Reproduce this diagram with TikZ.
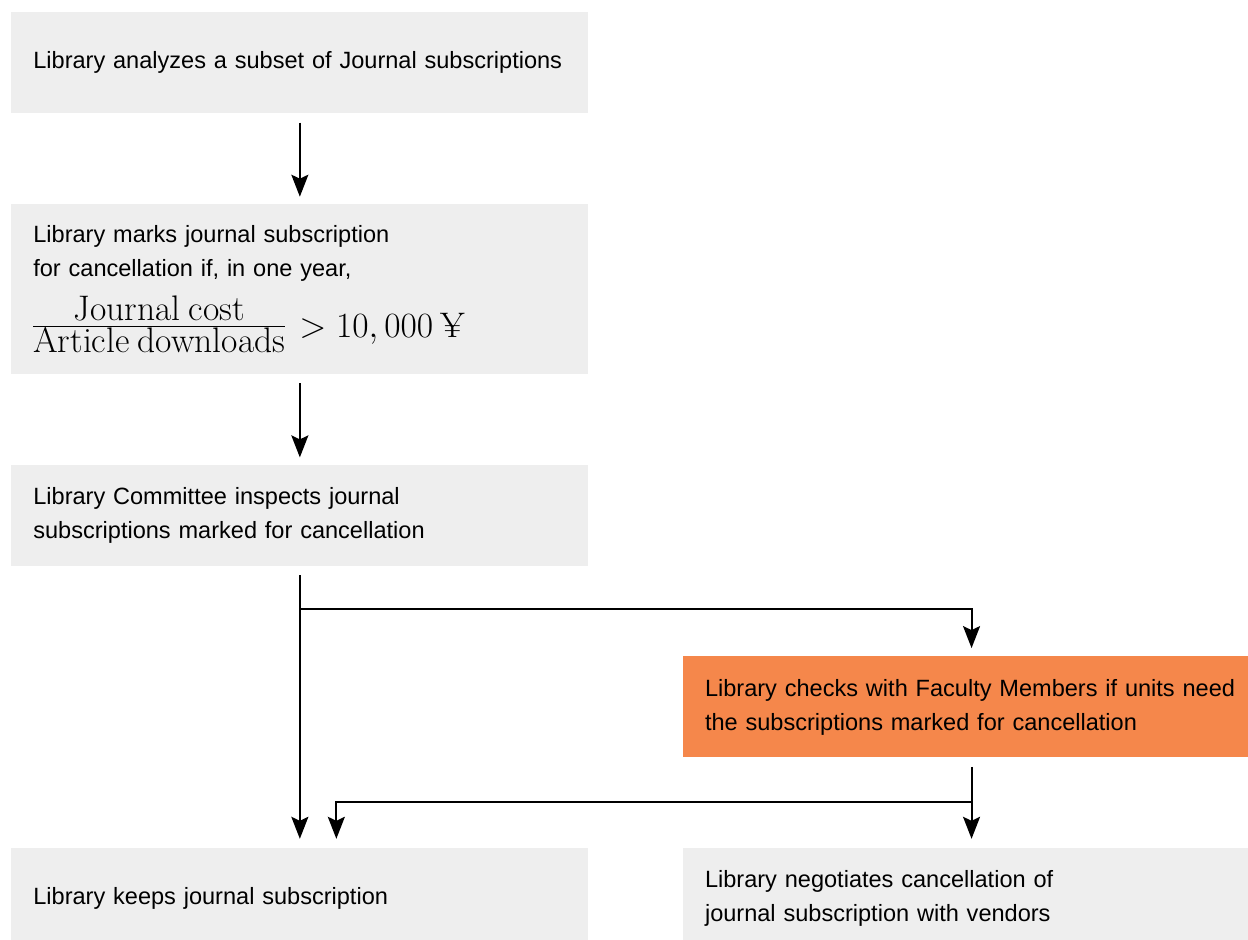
\RequirePackage{fix-cm}
\documentclass[tikz,border=0pt]{standalone}
\usepackage{fontspec}
\newfontfamily\arialfont{Liberation Sans}
\usetikzlibrary{positioning,arrows.meta}
\definecolor{boxgray}{RGB}{238,238,238}
\definecolor{boxorange}{RGB}{245,135,75}

\begin{document}
\begin{tikzpicture}[
    >={Stealth[length=0.44cm, width=0.34cm, inset=0.08cm]},
    every node/.style={font={\arialfont\fontsize{13.4pt}{19.4pt}\selectfont}},
    box/.style={fill=boxgray, inner xsep=0.44cm, inner ysep=0pt, text width=10.66cm, minimum height=2.02cm, align=left},
    hlbox/.style={box, fill=boxorange},
    flowarrow/.style={->, line width=1.1pt, black},
]
\useasboundingbox (0,0) rectangle (24.96,-18.8);

% ---- Left column: analysis steps ----
\node[box, anchor=north west] (analyze) at (0.22,-0.24) {Library analyzes a subset of Journal subscriptions};
\node[box, minimum height=3.4cm, below=1.8cm of analyze] (mark) {\rule{0pt}{15pt}Library marks journal subscription\\
    for cancellation if, in one year,\\[7pt]
    {\rmfamily\fontsize{20.2pt}{23pt}\selectfont\setlength{\arrayrulewidth}{0.7pt}\renewcommand{\arraystretch}{0.78}%
    \begin{tabular}[c]{@{}c@{}}Journal cost\\[-2pt]\hline Article downloads\end{tabular}\hspace{8pt}$> 10,000$ ¥}};
\node[box, below=1.8cm of mark] (inspect) {Library Committee inspects journal\\subscriptions marked for cancellation};

% ---- Right branch and outcomes ----
\node[hlbox, below right=1.8cm and 1.88cm of inspect] (check) {Library checks with Faculty Members if units need\\the subscriptions marked for cancellation};
\node[box, below left=1.8cm and 1.88cm of check] (keep) {Library keeps journal subscription};
\node[box, below=1.8cm of check] (negotiate) {Library negotiates cancellation of\\journal subscription with vendors};

\draw[flowarrow, shorten <=0.18cm, shorten >=0.14cm] (analyze) -- (mark);
\draw[flowarrow, shorten <=0.18cm, shorten >=0.14cm] (mark) -- (inspect);

% split below the committee step
\coordinate (split1) at ([yshift=-0.86cm]inspect.south);
\draw[flowarrow, shorten <=0.18cm, shorten >=0.18cm] (inspect.south) -- (keep.north);
\draw[flowarrow, shorten >=0.16cm] (split1) -| (check.north);

% split below the faculty check
\coordinate (split2) at ([yshift=-0.88cm]check.south);
\draw[flowarrow, shorten <=0.18cm, shorten >=0.18cm] (check.south) -- (negotiate.north);
\draw[flowarrow, shorten >=0.18cm] (split2) -| ([xshift=0.73cm]keep.north);

\end{tikzpicture}
\end{document}
